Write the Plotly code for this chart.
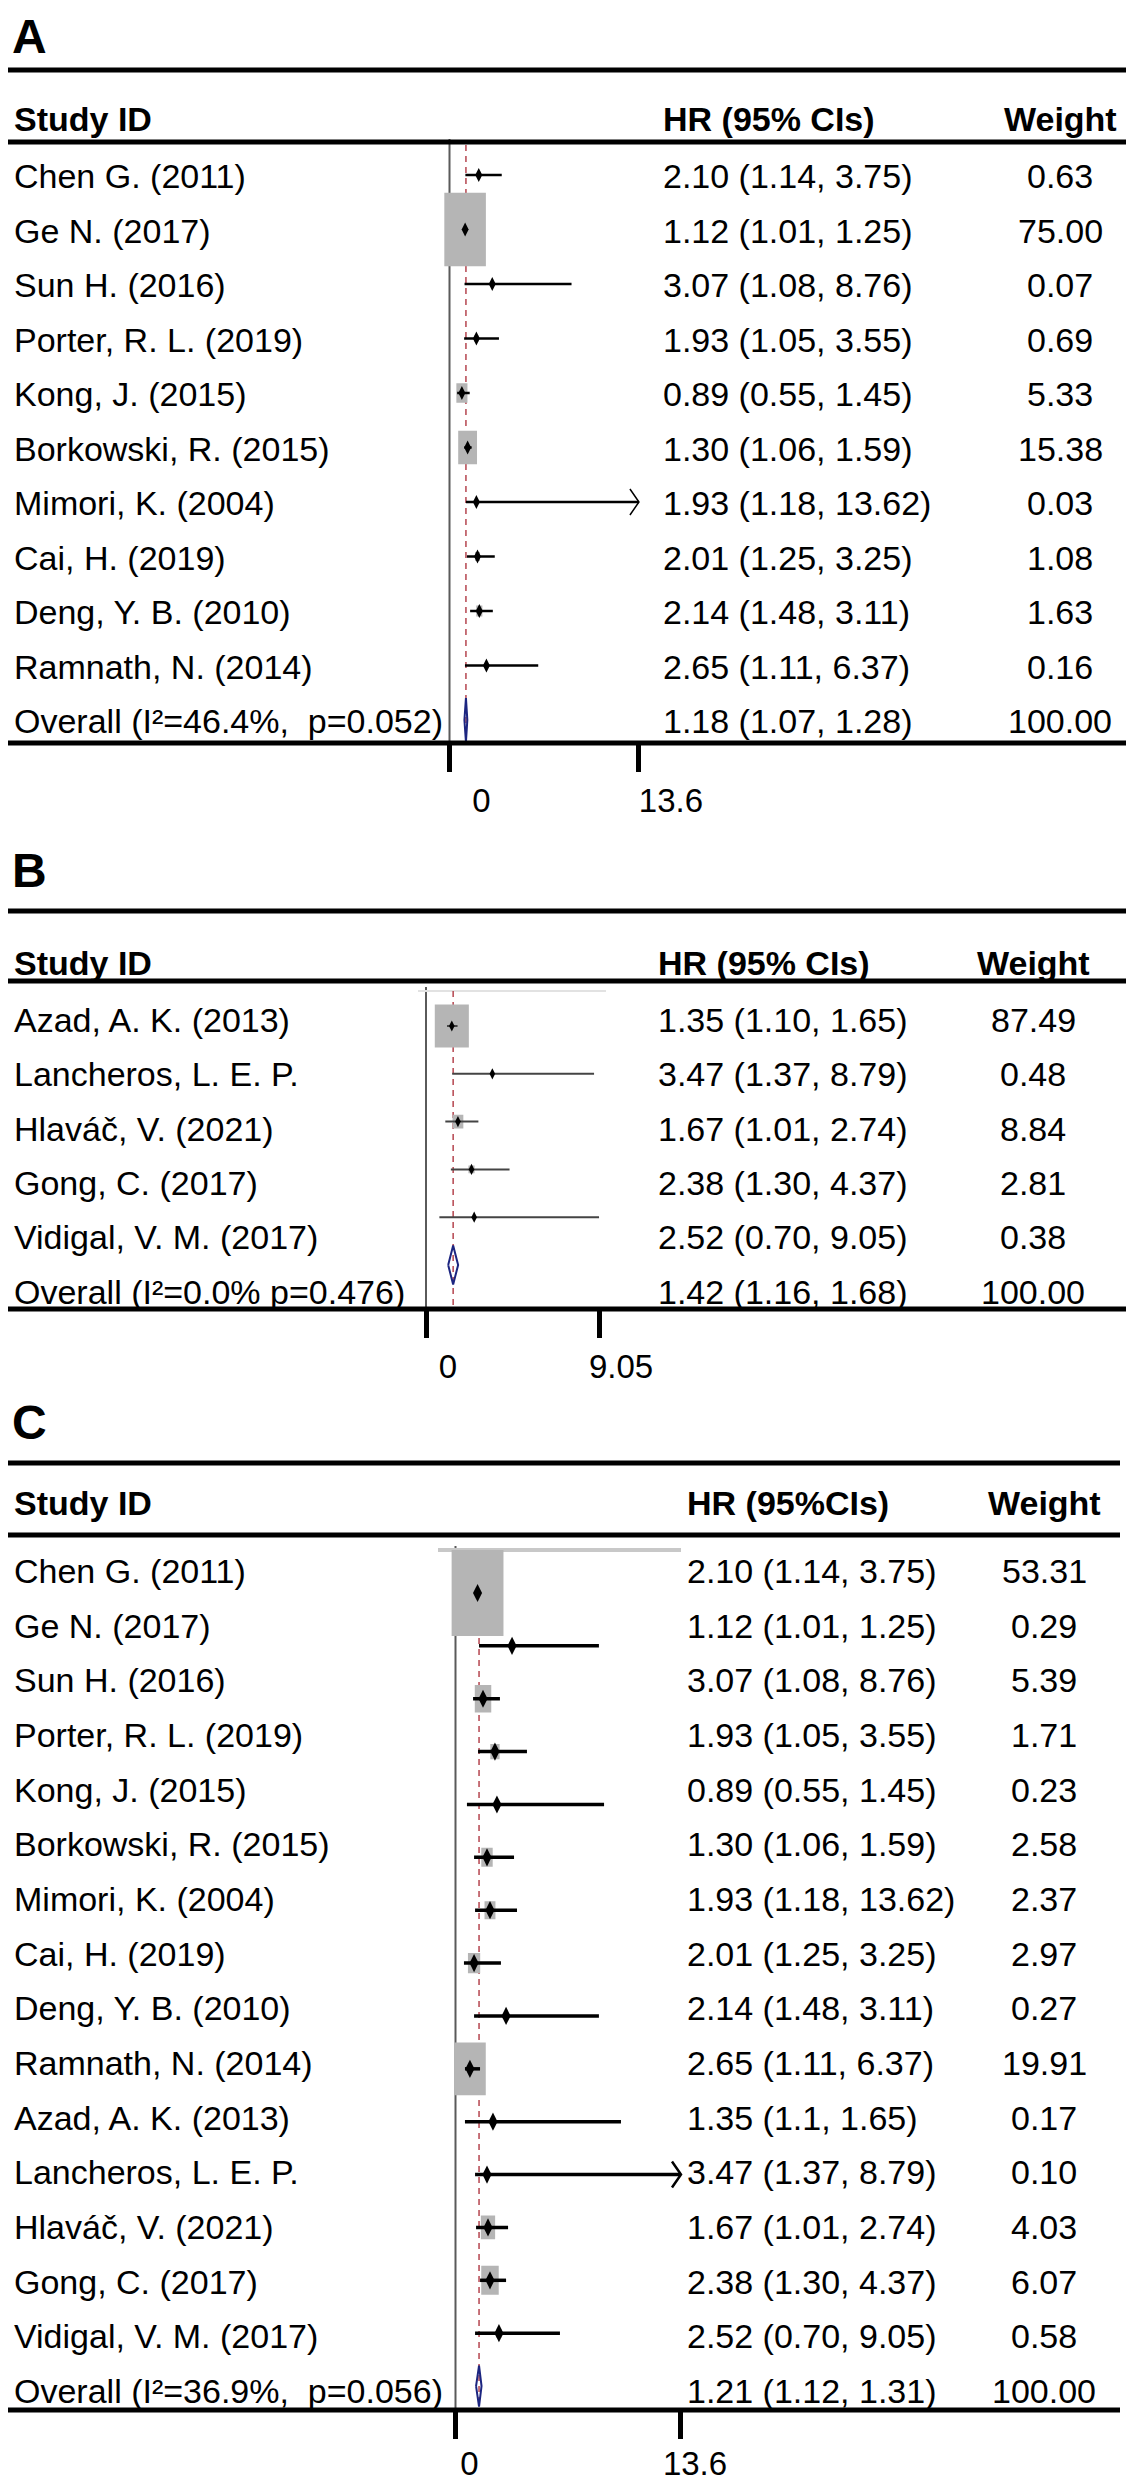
import plotly.graph_objects as go

W, H = 1134, 2480

# ---------------- DATA ----------------
# Panel A
a_study = ["Chen G. (2011)", "Ge N. (2017)", "Sun H. (2016)", "Porter, R. L. (2019)",
           "Kong, J. (2015)", "Borkowski, R. (2015)", "Mimori, K. (2004)", "Cai, H. (2019)",
           "Deng, Y. B. (2010)", "Ramnath, N. (2014)"]
a_hr = [2.10, 1.12, 3.07, 1.93, 0.89, 1.30, 1.93, 2.01, 2.14, 2.65]
a_lo = [1.14, 1.01, 1.08, 1.05, 0.55, 1.06, 1.18, 1.25, 1.48, 1.11]
a_hi = [3.75, 1.25, 8.76, 3.55, 1.45, 1.59, 13.62, 3.25, 3.11, 6.37]
a_wt = [0.63, 75.00, 0.07, 0.69, 5.33, 15.38, 0.03, 1.08, 1.63, 0.16]
a_overall_label = "Overall (I²=46.4%,  p=0.052)"
a_overall = [1.18, 1.07, 1.28]
a_ticks = [0, 13.6]
a_ticklabels = ["0", "13.6"]

# Panel B
b_study = ["Azad, A. K. (2013)", "Lancheros, L. E. P.", "Hlaváč, V. (2021)",
           "Gong, C. (2017)", "Vidigal, V. M. (2017)"]
b_hr = [1.35, 3.47, 1.67, 2.38, 2.52]
b_lo = [1.10, 1.37, 1.01, 1.30, 0.70]
b_hi = [1.65, 8.79, 2.74, 4.37, 9.05]
b_wt = [87.49, 0.48, 8.84, 2.81, 0.38]
b_overall_label = "Overall (I²=0.0% p=0.476)"
b_overall = [1.42, 1.16, 1.68]
b_ticks = [0, 9.05]
b_ticklabels = ["0", "9.05"]

# Panel C (table text)
c_study = a_study + b_study
c_hr_text = ["2.10 (1.14, 3.75)", "1.12 (1.01, 1.25)", "3.07 (1.08, 8.76)", "1.93 (1.05, 3.55)",
             "0.89 (0.55, 1.45)", "1.30 (1.06, 1.59)", "1.93 (1.18, 13.62)", "2.01 (1.25, 3.25)",
             "2.14 (1.48, 3.11)", "2.65 (1.11, 6.37)", "1.35 (1.1, 1.65)", "3.47 (1.37, 8.79)",
             "1.67 (1.01, 2.74)", "2.38 (1.30, 4.37)", "2.52 (0.70, 9.05)"]
c_wt = [53.31, 0.29, 5.39, 1.71, 0.23, 2.58, 2.37, 2.97, 0.27, 19.91, 0.17, 0.10, 4.03, 6.07, 0.58]
c_overall_label = "Overall (I²=36.9%,  p=0.056)"
c_overall_text = "1.21 (1.12, 1.31)"
# Panel C (values as drawn in the plot area)
c_plot_hr = [1.33, 3.41, 1.66, 2.38, 2.50, 1.90, 2.08, 1.12, 3.05, 0.87, 2.26, 1.90, 1.96, 2.08, 2.62]
c_plot_lo = [1.25, 1.42, 1.06, 1.36, 0.69, 1.12, 1.18, 0.51, 1.12, 0.57, 0.57, 1.18, 1.24, 1.48, 1.18]
c_plot_hi = [1.42, 8.65, 2.68, 4.31, 8.96, 3.53, 3.71, 2.74, 8.65, 1.48, 9.98, 15.0, 3.17, 3.05, 6.30]
c_plot_overall = [1.42, 1.24, 1.57]
c_ticks = [0, 13.6]
c_ticklabels = ["0", "13.6"]

# ---------------- GEOMETRY / STYLE ----------------
FONT = "Liberation Sans, Arial, Helvetica, sans-serif"
FS = 34

panels = [
    dict(letter="A", study=a_study, hr=a_hr, lo=a_lo, hi=a_hi, wt=a_wt,
         hr_text=[f"{h:.2f} ({l:.2f}, {u:.2f})" for h, l, u in zip(a_hr, a_lo, a_hi)],
         ov_label=a_overall_label, ov=a_overall,
         ov_text=f"{a_overall[0]:.2f} ({a_overall[1]:.2f}, {a_overall[2]:.2f})",
         ticks=a_ticks, ticklabels=a_ticklabels, hr_head="HR (95% CIs)",
         x0=441.5, sx=13.93, ytop=135, ybot=735, row0=167, rstep=54.5,
         trow0=168, tstep=54.5, head_y=111, letter_top=0, rule_top=62, rule_head=134,
         hr_x=653, wt_x=1052, rule_x1=1134, dash_top=137, tick_shift=32, standoff=0,
         kw=4.8, kh=8.5, dh=22, psize=10, lw=2.5, lcolor="black", gray=None),
    dict(letter="B", study=b_study, hr=b_hr, lo=b_lo, hi=b_hi, wt=b_wt,
         hr_text=[f"{h:.2f} ({l:.2f}, {u:.2f})" for h, l, u in zip(b_hr, b_lo, b_hi)],
         ov_label=b_overall_label, ov=b_overall,
         ov_text=f"{b_overall[0]:.2f} ({b_overall[1]:.2f}, {b_overall[2]:.2f})",
         ticks=b_ticks, ticklabels=b_ticklabels, hr_head="HR (95% CIs)",
         x0=418, sx=19.12, ytop=983, ybot=1301, row0=1018, rstep=47.8,
         trow0=1012, tstep=54.3, head_y=955, letter_top=834, rule_top=903, rule_head=973,
         hr_x=648, wt_x=1025, rule_x1=1134, dash_top=983, tick_shift=22, standoff=0,
         kw=3.64, kh=4.6, dh=19.5, psize=8, lw=2, lcolor="#444444",
         gray=(410, 598, 983, "#e2e2e2", 2)),
    dict(letter="C", study=c_study, hr=c_plot_hr, lo=c_plot_lo, hi=c_plot_hi, wt=c_wt,
         hr_text=c_hr_text, ov_label=c_overall_label, ov=c_plot_overall,
         ov_text=c_overall_text,
         ticks=c_ticks, ticklabels=c_ticklabels, hr_head="HR (95%CIs)",
         x0=447.5, sx=16.58, ytop=1542, ybot=2402, row0=1585, rstep=52.87,
         trow0=1563, tstep=54.67, head_y=1495, letter_top=1386, rule_top=1455, rule_head=1527,
         hr_x=677, wt_x=1036, rule_x1=1112, dash_top=1542, tick_shift=14, standoff=-4,
         kw=7.1, kh=11.8, dh=20.5, psize=13, lw=3.5, lcolor="black",
         gray=(430, 673, 1542, "#c8c8c8", 4)),
]


def py(px):
    return 1 - px / H


def pxx(px):
    return px / W


fig = go.Figure()
shapes = []
annotations = []
layout_axes = {}

for k, p in enumerate(panels, start=1):
    xa = "x" if k == 1 else f"x{k}"
    ya = "y" if k == 1 else f"y{k}"
    xd0, xd1 = 380, 720
    xr = [(xd0 - p["x0"]) / p["sx"], (xd1 - p["x0"]) / p["sx"]]
    yr = [(p["ybot"] - p["row0"]) / p["rstep"], (p["ytop"] - p["row0"]) / p["rstep"]]
    xmax = p["ticks"][-1]
    n = len(p["study"])
    rows = list(range(n))
    ov_row = n
    ux = 1.0 / p["sx"]      # data units per px (x)
    uy = 1.0 / p["rstep"]   # data units per px (y)

    # red dashed line at overall estimate
    fig.add_trace(go.Scatter(
        x=[p["ov"][0], p["ov"][0]],
        y=[(p["dash_top"] - p["row0"]) * uy, yr[0]],
        mode="lines", line=dict(color="#b5454f", width=1.5, dash="6px,5px"),
        xaxis=xa, yaxis=ya, hoverinfo="skip", showlegend=False))

    # weight boxes
    bx, by = [], []
    for r, h, w in zip(rows, p["hr"], p["wt"]):
        hw = p["kw"] * w ** 0.5 / 2 * ux
        hh = p["kh"] * w ** 0.5 / 2 * uy
        bx += [h - hw, h + hw, h + hw, h - hw, h - hw, None]
        by += [r - hh, r - hh, r + hh, r + hh, r - hh, None]
    fig.add_trace(go.Scatter(x=bx, y=by, mode="lines", fill="toself",
                             fillcolor="#b5b5b5", line=dict(width=0, color="#b5b5b5"),
                             xaxis=xa, yaxis=ya, hoverinfo="skip", showlegend=False))

    # CI lines
    lx, ly = [], []
    ax_, ay_ = [], []
    for r, lo, hi in zip(rows, p["lo"], p["hi"]):
        lx += [lo, min(hi, xmax), None]
        ly += [r, r, None]
        if hi > xmax:
            dx = 9 * ux
            dy = 13 * uy
            ax_ += [xmax - dx, xmax, xmax - dx, None]
            ay_ += [r - dy, r, r + dy, None]
    fig.add_trace(go.Scatter(x=lx, y=ly, mode="lines",
                             line=dict(color=p["lcolor"], width=p["lw"]),
                             xaxis=xa, yaxis=ya, hoverinfo="skip", showlegend=False))
    if ax_:
        fig.add_trace(go.Scatter(x=ax_, y=ay_, mode="lines",
                                 line=dict(color=p["lcolor"], width=max(1.5, p["lw"] - 1)),
                                 xaxis=xa, yaxis=ya, hoverinfo="skip", showlegend=False))

    # point estimates
    fig.add_trace(go.Scatter(x=p["hr"], y=rows, mode="markers",
                             marker=dict(symbol="diamond-tall", size=p["psize"], color="black",
                                         line=dict(width=0)),
                             xaxis=xa, yaxis=ya, hoverinfo="skip", showlegend=False))

    # overall diamond
    e, l, u = p["ov"]
    d = p["dh"] * uy
    fig.add_trace(go.Scatter(x=[l, e, u, e, l], y=[ov_row, ov_row - d, ov_row, ov_row + d, ov_row],
                             mode="lines", line=dict(color="#1c2580", width=2),
                             xaxis=xa, yaxis=ya, hoverinfo="skip", showlegend=False))

    layout_axes[("xaxis" if k == 1 else f"xaxis{k}")] = dict(
        domain=[pxx(xd0), pxx(xd1)], range=xr, anchor=ya,
        showgrid=False, zeroline=False, showline=False,
        tickmode="array", tickvals=p["ticks"], ticktext=p["ticklabels"],
        ticks="outside", ticklen=28, tickwidth=5, tickcolor="black",
        ticklabelshift=p["tick_shift"], ticklabelstandoff=p["standoff"],
        tickfont=dict(family=FONT, size=33, color="black"), fixedrange=True)
    layout_axes[("yaxis" if k == 1 else f"yaxis{k}")] = dict(
        domain=[py(p["ybot"]), py(p["ytop"])], range=yr, anchor=xa,
        visible=False, showgrid=False, zeroline=False, fixedrange=True)

    # vertical axis line at 0
    shapes.append(dict(type="line", xref=xa, x0=0, x1=0, yref="paper",
                       y0=py(p["ytop"] - 4), y1=py(p["ybot"]),
                       line=dict(color="#5a5a5a", width=2), layer="below"))
    # gray plot-region top line
    if p["gray"]:
        gx0, gx1, gy, gc, gw = p["gray"]
        shapes.append(dict(type="line", xref="paper", yref="paper",
                           x0=pxx(gx0), x1=pxx(gx1), y0=py(gy), y1=py(gy),
                           line=dict(color=gc, width=gw), layer="below"))
    # table rules
    for ry in (p["rule_top"], p["rule_head"], p["ybot"]):
        shapes.append(dict(type="line", xref="paper", yref="paper",
                           x0=0, x1=pxx(p["rule_x1"]), y0=py(ry), y1=py(ry),
                           line=dict(color="black", width=5), layer="above"))

    # panel letter
    annotations.append(dict(text=f"<b>{p['letter']}</b>", x=pxx(2), y=py(p["letter_top"]),
                            xref="paper", yref="paper", xanchor="left", yanchor="top",
                            showarrow=False, font=dict(family=FONT, size=48, color="black")))
    # headers
    for txt, x, anc in (("Study ID", 4, "left"), (p["hr_head"], p["hr_x"], "left"),
                        ("Weight", p["wt_x"], "center")):
        annotations.append(dict(text=f"<b>{txt}</b>", x=pxx(x), y=py(p["head_y"]),
                                xref="paper", yref="paper", xanchor=anc, yanchor="middle",
                                showarrow=False, font=dict(family=FONT, size=FS, color="black")))
    # rows
    labels = p["study"] + [p["ov_label"]]
    hrt = p["hr_text"] + [p["ov_text"]]
    wts = [f"{w:.2f}" for w in p["wt"]] + ["100.00"]
    for i, (lab, ht, wt) in enumerate(zip(labels, hrt, wts)):
        yy = py(p["trow0"] + i * p["tstep"])
        annotations.append(dict(text=lab, x=pxx(4), y=yy, xref="paper", yref="paper",
                                xanchor="left", yanchor="middle", showarrow=False,
                                font=dict(family=FONT, size=FS, color="black")))
        annotations.append(dict(text=ht, x=pxx(p["hr_x"]), y=yy, xref="paper", yref="paper",
                                xanchor="left", yanchor="middle", showarrow=False,
                                font=dict(family=FONT, size=FS, color="black")))
        annotations.append(dict(text=wt, x=pxx(p["wt_x"]), y=yy, xref="paper", yref="paper",
                                xanchor="center", yanchor="middle", showarrow=False,
                                font=dict(family=FONT, size=FS, color="black")))

fig.update_layout(
    width=W, height=H, margin=dict(l=0, r=0, t=0, b=0),
    paper_bgcolor="white", plot_bgcolor="rgba(0,0,0,0)",
    showlegend=False, shapes=shapes, annotations=annotations, **layout_axes)

fig.write_html("out.html")
